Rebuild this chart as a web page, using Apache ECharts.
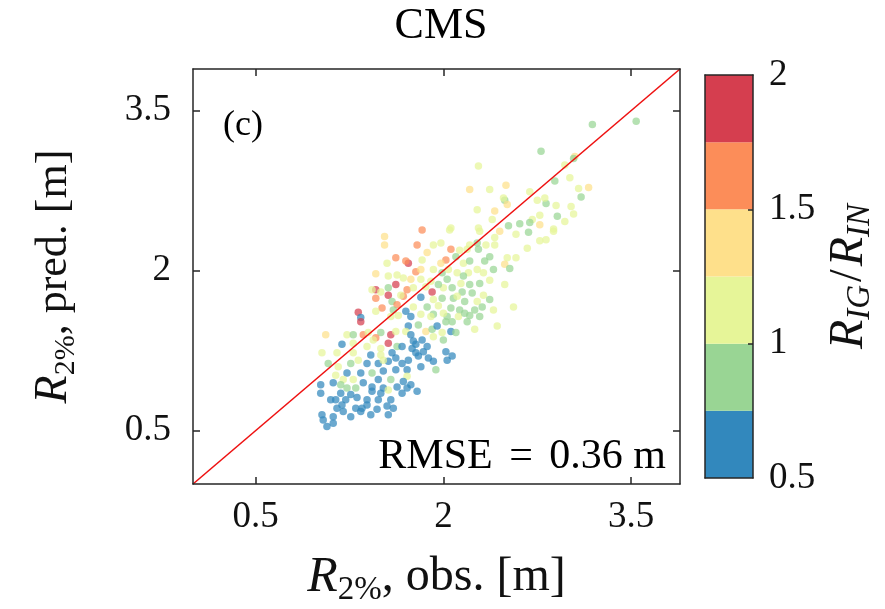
<!DOCTYPE html>
<html><head><meta charset="utf-8">
<script src="https://cdn.jsdelivr.net/npm/echarts@6/dist/echarts.min.js"></script>
<style>html,body{margin:0;padding:0;background:#fff}#c{width:885px;height:609px}</style>
</head><body><div id="c"></div>
<script>
// ---- data ----
const obsX = [3.19,3.54,2.78,2.28,2.97,3.05,3.04,2.89,3.01,2.21,2.50,2.37,2.69,3.08,3.16,2.49,2.48,2.75,2.82,2.81,2.51,3.10,2.27,2.41,2.90,3.02,2.77,2.91,3.04,2.39,2.71,2.69,2.61,2.52,2.97,2.77,2.06,2.28,2.88,
2.45,2.58,2.68,2.88,2.77,2.82,2.67,2.51,2.58,2.49,2.53,2.49,2.56,
1.83,2.05,2.29,1.79,1.92,1.98,2.06,2.13,2.21,2.27,2.28,2.34,2.41,1.72,1.70,1.83,1.87,2.02,2.10,2.16,2.21,2.33,2.37,2.27,1.92,1.78,2.11,2.20,1.99,1.68,1.82,1.90,2.03,2.14,2.21,2.29,2.37,1.71,1.76,1.91,2.00,2.07,2.15,2.23,2.32,1.68,1.82,1.92,1.99,2.08,2.17,2.27,2.37,1.76,1.87,1.96,2.06,2.13,2.25,1.70,1.74,1.82,1.92,2.03,2.12,2.21,
1.53,1.53,1.62,1.55,1.46,1.56,1.63,1.62,1.56,1.46,1.43,1.50,1.56,1.66,1.46,1.59,1.63,1.51,1.46,1.60,1.32,1.34,1.58,1.64,
1.34,1.06,1.23,1.28,1.36,1.40,1.50,1.46,1.58,1.62,1.19,1.03,1.28,1.39,1.44,1.56,1.50,1.63,1.28,1.42,1.50,1.59,1.08,1.16,1.26,1.32,1.48,1.56,1.62,1.14,1.23,1.34,1.43,1.52,1.62,1.20,1.28,1.48,1.58,1.02,1.12,1.23,1.30,1.43,1.52,1.63,1.02,1.18,1.43,1.56,1.10,1.14,1.22,1.31,1.39,1.48,1.58,1.19,1.30,1.35,1.39,1.55,1.60,1.20,1.34,1.03,1.12,1.56,1.04,1.07,
1.72,1.70,1.74,1.80,1.86,1.91,1.92,1.95,2.02,2.07,1.99,2.06,2.10,2.19,2.25,2.43,1.76,1.83,1.78,2.00,1.67,1.75,1.84,2.02,1.78,1.88,1.92,2.07,1.72,1.80,1.67,1.71,1.94,1.71,1.68,1.74,1.71,1.79,1.67,
2.41,2.19,1.98,2.04,2.16,2.32,2.40,1.82,1.74,1.86,1.96,2.11,2.31,2.40,1.90,2.00,2.17,2.29,
1.15,1.52,1.39,1.18,1.36,1.50,1.26,1.15,1.47,1.26,1.42,1.12,1.82,1.87,2.03];
const predY = [3.37,3.40,3.12,2.98,2.99,3.07,3.05,2.84,2.87,2.76,2.80,2.76,2.74,2.77,2.78,2.66,2.68,2.66,2.63,2.68,2.62,2.69,2.57,2.56,2.61,2.60,2.52,2.51,2.53,2.48,2.48,2.45,2.44,2.42,2.46,2.43,2.40,2.40,2.39,
2.37,2.34,2.36,2.37,2.28,2.29,2.21,2.12,2.12,2.06,2.02,1.87,1.66,
2.38,2.38,2.37,2.24,2.24,2.26,2.20,2.19,2.24,2.26,2.20,2.24,2.24,2.07,2.09,2.10,2.17,2.10,2.13,2.07,2.09,2.09,2.13,2.01,2.01,1.99,1.98,1.98,1.98,1.93,1.92,1.90,1.92,1.88,1.87,1.88,1.91,1.82,1.84,1.80,1.84,1.84,1.80,1.79,1.77,1.76,1.75,1.73,1.74,1.74,1.71,1.71,1.73,1.66,1.66,1.67,1.65,1.63,1.63,1.62,1.57,1.59,1.59,1.57,1.57,1.58,
2.32,2.24,2.12,2.07,1.97,1.95,1.96,1.87,1.84,1.82,1.82,1.80,1.77,1.77,1.74,1.71,1.68,1.65,1.62,1.63,1.61,1.56,1.57,1.58,
1.52,1.40,1.40,1.40,1.40,1.42,1.42,1.37,1.40,1.43,1.31,1.23,1.32,1.29,1.35,1.32,1.27,1.29,1.23,1.21,1.21,1.23,1.13,1.10,1.13,1.16,1.13,1.15,1.18,1.02,1.04,1.04,1.04,1.06,1.07,0.98,0.98,0.98,0.98,0.93,0.95,0.90,0.90,0.91,0.90,0.91,0.85,0.85,0.87,0.88,0.79,0.79,0.79,0.81,0.79,0.79,0.79,0.74,0.71,0.71,0.74,0.73,0.71,0.68,0.68,0.65,0.63,0.65,0.60,0.54,
1.48,1.43,1.40,1.49,1.43,1.45,1.38,1.48,1.52,1.52,1.42,1.43,1.42,1.52,1.45,1.48,1.34,1.35,1.31,1.35,1.29,1.27,1.24,1.24,1.23,1.18,1.15,1.20,1.16,1.20,1.13,1.07,1.07,1.01,0.96,0.93,0.90,0.87,0.85,
2.31,2.20,2.07,2.01,1.95,1.98,2.01,2.01,1.92,1.85,1.87,1.76,1.66,1.63,1.57,1.60,1.60,1.57,
1.23,1.16,1.13,0.93,0.95,0.85,0.84,0.71,0.70,0.63,0.65,0.57,1.10,1.29,1.16];
const ratioIGIN = [0.9,0.92,0.85,1.1,1.15,1.3,0.95,0.9,1.1,1.4,1.35,1.1,1.15,1.12,1.4,0.92,1.1,1.15,0.85,1.05,1.4,0.9,1.1,1.38,1.15,1.08,1.12,0.88,1.1,1.12,1.1,0.9,0.88,0.85,1.1,1.35,1.1,1.12,1.1,
1.35,1.12,0.88,1.1,1.12,1.15,1.1,1.12,1.1,1.38,0.9,1.12,1.1,
1.6,1.1,1.12,1.55,1.12,1.1,1.62,1.1,1.12,0.9,0.88,1.1,1.12,1.85,1.6,1.12,1.4,1.58,0.9,1.1,0.88,0.92,0.9,1.1,1.12,1.6,1.1,1.12,0.9,1.1,1.12,1.1,0.9,1.12,0.88,0.9,1.1,1.6,1.12,1.85,1.1,0.9,0.88,0.92,1.1,1.58,0.62,1.12,0.9,0.88,0.9,1.1,0.92,1.12,0.9,1.1,0.88,0.9,0.88,0.6,0.62,1.1,0.9,0.88,1.12,0.9,
1.38,1.35,1.6,1.12,1.38,1.1,1.12,1.85,0.9,1.82,1.12,1.1,1.8,1.1,1.65,0.9,1.55,1.6,1.12,0.88,1.85,0.6,1.12,1.1,
1.82,1.38,1.12,0.9,1.6,1.12,0.88,1.62,1.8,1.1,0.62,1.12,1.1,1.12,1.1,1.8,1.1,0.9,1.12,0.6,1.1,0.62,0.9,1.12,0.88,1.1,0.6,0.62,0.6,1.1,0.62,0.6,0.9,0.62,0.6,1.12,1.1,0.6,0.9,0.62,0.6,0.88,0.9,0.62,0.6,0.62,0.6,0.62,0.6,1.1,0.62,0.6,0.62,0.6,0.62,0.6,0.62,0.6,0.62,0.6,0.62,0.6,0.62,0.6,0.62,0.6,0.62,0.6,0.62,0.6,
0.6,1.1,0.62,0.9,1.38,0.88,1.12,0.62,0.9,0.88,1.1,0.6,0.9,0.88,1.12,1.1,0.62,0.6,0.62,0.9,0.6,0.62,0.6,0.62,0.6,0.62,0.6,0.62,0.6,0.62,0.6,0.62,0.9,1.1,0.6,0.62,0.6,0.62,0.6,
1.12,1.1,1.3,1.12,0.9,1.1,0.9,1.3,1.4,1.12,0.9,1.12,0.9,1.1,1.12,1.1,0.9,0.88,
1.1,1.12,0.62,0.88,0.6,0.62,0.6,0.62,0.6,0.62,0.6,0.62,0.62,0.6,0.62];
const tickValues = [0.5, 2, 3.5];
const axisRange = [0, 3.89];
const identityLine = [0, 3.89];
const cbBounds = [0.5, 0.75, 1, 1.25, 1.5, 1.75, 2];
const cbColors = ['#3288bd', '#99d594', '#e6f598', '#fee08b', '#fc8d59', '#d53e4f'];
const cbTickValues = [1, 1.5];
const titleText = 'CMS';
const panelTag = '(c)';

// ---- chart ----
const FONT = 'Liberation Serif';
const AX = '#262626';
const TX = '#111111';
const points = obsX.map((x, i) => [x, predY[i], ratioIGIN[i]]);
const cbData = cbColors.map((c, i) => [0, cbBounds[i], cbBounds[i + 1], i]);

const mainAxis = (pos, labels, margin) => ({
  type: 'value', min: axisRange[0], max: axisRange[1], position: pos, gridIndex: 0,
  splitLine: { show: false },
  axisLine: { show: true, onZero: false, lineStyle: { color: AX, width: 1.5 } },
  axisTick: { show: true, inside: true, length: 7, customValues: tickValues, lineStyle: { color: AX, width: 1.5 } },
  axisLabel: labels ? { show: true, customValues: tickValues, fontFamily: FONT, fontSize: 37, color: TX, margin: margin } : { show: false },
  z: 5
});
const mkRich = (big, small, pad) => ({
  i: { fontFamily: FONT, fontStyle: 'italic', fontSize: big, color: TX, lineHeight: big, padding: [0, 0, pad, 0] },
  n: { fontFamily: FONT, fontSize: big - 2, color: TX, lineHeight: big, padding: [0, 0, pad, 0] },
  sl: { fontFamily: FONT, fontSize: big - 2, color: TX, lineHeight: big, padding: [0, 3, pad, 3] },
  s: { fontFamily: FONT, fontSize: small, color: TX, lineHeight: small, verticalAlign: 'bottom' },
  si: { fontFamily: FONT, fontStyle: 'italic', fontSize: small, color: TX, lineHeight: small, verticalAlign: 'bottom' }
});

const chart = echarts.init(document.getElementById('c'), null, { renderer: 'canvas' });
chart.setOption({
  animation: false,
  backgroundColor: '#ffffff',
  title: { text: titleText, left: 436, top: -1, textAlign: 'center',
    textStyle: { fontFamily: FONT, fontSize: 44, fontWeight: 'normal', color: '#000' } },
  grid: [
    { left: 193, top: 69, width: 487, height: 415, outerBoundsMode: 'none', containLabel: false },
    { left: 705, top: 75, width: 48, height: 403, outerBoundsMode: 'none', containLabel: false }
  ],
  xAxis: [
    Object.assign(mainAxis('bottom', true, 15), { name: '{i|R}{s|2%}{n|, obs. [m]}', nameLocation: 'middle', nameGap: 73,
      nameTextStyle: { rich: mkRich(50, 33, 9) } }),
    mainAxis('top', false, 0),
    { type: 'category', gridIndex: 1, data: ['cb'], position: 'bottom', z: 5,
      axisLine: { show: true, lineStyle: { color: AX, width: 1.5 } }, axisTick: { show: false }, axisLabel: { show: false } },
    { type: 'category', gridIndex: 1, data: ['cb'], position: 'top', z: 5,
      axisLine: { show: true, lineStyle: { color: AX, width: 1.5 } }, axisTick: { show: false }, axisLabel: { show: false } }
  ],
  yAxis: [
    Object.assign(mainAxis('left', true, 22), { name: '{i|R}{s|2%}{n|, pred. [m]}', nameLocation: 'middle', nameGap: 112, nameRotate: 90,
      nameTextStyle: { rich: mkRich(46, 30, 8) } }),
    mainAxis('right', false, 0),
    { type: 'value', gridIndex: 1, min: cbBounds[0], max: cbBounds[cbBounds.length - 1], interval: 0.5, position: 'right', z: 5,
      splitLine: { show: false },
      axisLine: { show: true, lineStyle: { color: AX, width: 1.5 } },
      axisTick: { show: true, inside: true, length: 5, customValues: cbTickValues, lineStyle: { color: AX, width: 1.5 } },
      axisLabel: { show: true, showMinLabel: true, showMaxLabel: true, fontFamily: FONT, fontSize: 37, color: TX, margin: 16 },
      name: '{i|R}{si|IG}{sl|/}{i|R}{si|IN}', nameLocation: 'middle', nameRotate: 90, nameGap: 76,
      nameTextStyle: { rich: mkRich(48, 33, 8) } },
    { type: 'value', gridIndex: 1, min: cbBounds[0], max: cbBounds[cbBounds.length - 1], position: 'left', z: 5,
      splitLine: { show: false }, axisLine: { show: true, lineStyle: { color: AX, width: 1.5 } },
      axisTick: { show: false }, axisLabel: { show: false } }
  ],
  visualMap: {
    type: 'piecewise', show: false, seriesIndex: 0, dimension: 2,
    pieces: cbColors.map((c, i) => ({ gte: cbBounds[i], lt: cbBounds[i + 1], color: c }))
  },
  series: [
    { type: 'scatter', xAxisIndex: 0, yAxisIndex: 0, data: points, symbolSize: 7.5,
      itemStyle: { opacity: 0.72 }, z: 2, silent: true },
    { type: 'line', xAxisIndex: 0, yAxisIndex: 0, data: [[identityLine[0], identityLine[0]], [identityLine[1], identityLine[1]]],
      symbol: 'none', lineStyle: { color: '#ee1111', width: 1.6 }, z: 3, silent: true },
    { type: 'custom', xAxisIndex: 2, yAxisIndex: 2, data: cbData, silent: true, z: 2,
      renderItem: (params, api) => {
        const lo = api.coord([0, api.value(1)]);
        const hi = api.coord([0, api.value(2)]);
        const w = api.size([1, 0])[0];
        return { type: 'rect', shape: { x: lo[0] - w / 2, y: hi[1], width: w, height: lo[1] - hi[1] },
          style: { fill: cbColors[api.value(3)] } };
      } }
  ],
  graphic: [
    { type: 'text', left: 223, top: 108, style: { text: panelTag, fontFamily: FONT, fontSize: 36, fill: '#000' } },
    { type: 'text', right: 885 - 666, top: 436, style: {
      text: '{t|RMSE }{e|=}{t| 0.36 m}',
      rich: { t: { fontFamily: FONT, fontSize: 42, fill: '#000' }, e: { fontFamily: FONT, fontSize: 42, fill: '#000', padding: [0, 6, 0, 6] } } } }
  ]
});
</script>
</body></html>
